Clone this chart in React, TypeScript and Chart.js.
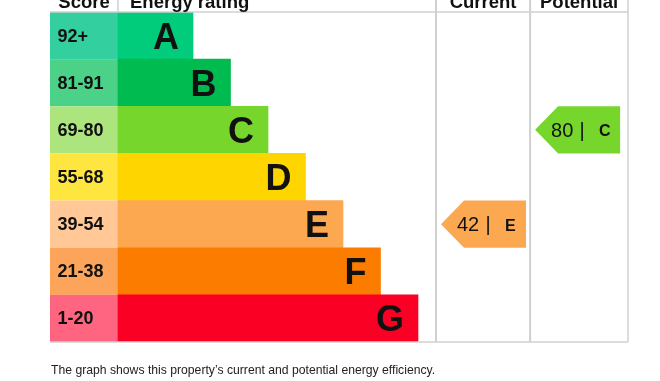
import React, { useEffect, useRef } from 'react';
import { Chart, registerables } from 'chart.js';

Chart.register(...registerables);

// ---- Data ----
const bands = ['A', 'B', 'C', 'D', 'E', 'F', 'G'];
const scoreRanges = ['92+', '81-91', '69-80', '55-68', '39-54', '21-38', '1-20'];
const bandMins = [92, 81, 69, 55, 39, 21, 1];
const barLengths = [2, 3, 4, 5, 6, 7, 8];
const barColors = ['#00CC7B', '#00BB50', '#76D62B', '#FFD500', '#FCA851', '#FC7C00', '#FA0024'];
const scoreColors = ['#33CF9F', '#4CD188', '#ACE57D', '#FFE540', '#FFC896', '#FCA55A', '#FF6480'];
const headers = ['Score', 'Energy rating', 'Current', 'Potential'];
const currentScore = 42;
const potentialScore = 80;
const footnote = 'The graph shows this property\u2019s current and potential energy efficiency.';

// ---- Layout (scale units: 1 unit = one band step) ----
const X_MIN = -1.8133;
const X_MAX = 13.6;
const COL_CURRENT = 8.48;
const COL_POTENTIAL = 10.99;

const FONT = '"Liberation Sans", Arial, Helvetica, sans-serif';

function bandIndex(score: number) {
  for (let i = 0; i < bandMins.length; i++) if (score >= bandMins[i]) return i;
  return bandMins.length - 1;
}

const epcPlugin = {
  id: 'epc',
  beforeDatasetsDraw(chart: any) {
    const { ctx, chartArea, scales } = chart;
    const { left, top, bottom } = chartArea;
    const x = scales.x;
    const y = scales.y;
    const h = (bottom - top) / bands.length;
    const x0 = x.getPixelForValue(0);
    ctx.save();
    bands.forEach((_, i) => {
      const yc = y.getPixelForValue(i);
      ctx.fillStyle = scoreColors[i];
      ctx.fillRect(left, yc - h / 2, x0 - left, h);
    });
    ctx.restore();
  },
  afterDatasetsDraw(chart: any) {
    const { ctx, chartArea, scales } = chart;
    const { left, right, top, bottom } = chartArea;
    const x = scales.x;
    const y = scales.y;
    const h = (bottom - top) / bands.length;
    const x0 = x.getPixelForValue(0);
    const xc = x.getPixelForValue(COL_CURRENT);
    const xp = x.getPixelForValue(COL_POTENTIAL);
    const xr = x.getPixelForValue(X_MAX);
    ctx.save();

    // grid lines
    ctx.strokeStyle = '#D0D0D0';
    ctx.lineWidth = 2;
    [xc, xp].forEach((px) => {
      ctx.beginPath();
      ctx.moveTo(px, 0);
      ctx.lineTo(px, bottom);
      ctx.stroke();
    });
    ctx.lineWidth = 1.5;
    ctx.beginPath();
    ctx.moveTo(xr, 0);
    ctx.lineTo(xr, bottom);
    ctx.stroke();
    ctx.beginPath();
    ctx.moveTo(x0, 0);
    ctx.lineTo(x0, top);
    ctx.stroke();
    ctx.beginPath();
    ctx.moveTo(left, top);
    ctx.lineTo(right, top);
    ctx.stroke();
    ctx.beginPath();
    ctx.moveTo(left, bottom);
    ctx.lineTo(right, bottom);
    ctx.stroke();

    // headers
    ctx.fillStyle = '#111';
    ctx.font = `bold 18.5px ${FONT}`;
    ctx.textBaseline = 'alphabetic';
    ctx.textAlign = 'center';
    ctx.fillText(headers[0], (left + x0) / 2, 8);
    ctx.textAlign = 'left';
    ctx.fillText(headers[1], x0 + 12, 8);
    ctx.textAlign = 'center';
    ctx.fillText(headers[2], (xc + xp) / 2, 8);
    ctx.fillText(headers[3], (xp + xr) / 2, 8);

    // score labels and band letters
    bands.forEach((b, i) => {
      const yc = y.getPixelForValue(i);
      ctx.fillStyle = '#111';
      ctx.font = `bold 18px ${FONT}`;
      ctx.textAlign = 'left';
      ctx.fillText(scoreRanges[i], left + 7.5, yc + 6);
      ctx.font = `bold 36px ${FONT}`;
      ctx.textAlign = 'right';
      const barRight = x.getPixelForValue(barLengths[i]);
      ctx.fillText(b, barRight - 14, yc + 13);
    });

    // arrows
    const drawArrow = (score: number, colLeft: number) => {
      const i = bandIndex(score);
      const yc = y.getPixelForValue(i);
      const tip = colLeft + 5;
      const w = 85;
      const notch = 23;
      ctx.fillStyle = barColors[i];
      ctx.beginPath();
      ctx.moveTo(tip, yc);
      ctx.lineTo(tip + notch, yc - h / 2);
      ctx.lineTo(tip + w, yc - h / 2);
      ctx.lineTo(tip + w, yc + h / 2);
      ctx.lineTo(tip + notch, yc + h / 2);
      ctx.closePath();
      ctx.fill();
      ctx.fillStyle = '#111';
      ctx.textAlign = 'left';
      ctx.font = `20px ${FONT}`;
      ctx.fillText(`${score}`, tip + 16, yc + 7);
      ctx.fillText('|', tip + 44.5, yc + 7);
      ctx.font = `bold 16px ${FONT}`;
      ctx.fillText(bands[i], tip + 64, yc + 6.5);
    };
    drawArrow(currentScore, xc);
    drawArrow(potentialScore, xp);

    // footnote
    ctx.fillStyle = '#222';
    ctx.font = `12.2px ${FONT}`;
    ctx.textAlign = 'left';
    ctx.fillText(footnote, 51, 374);

    ctx.restore();
  },
};

export default function App() {
  const canvasRef = useRef<HTMLCanvasElement | null>(null);

  useEffect(() => {
    if (!canvasRef.current) return;
    const chart = new Chart(canvasRef.current, {
      type: 'bar',
      data: {
        labels: bands,
        datasets: [
          {
            label: 'Energy rating',
            data: barLengths,
            backgroundColor: barColors,
            borderWidth: 0,
            barPercentage: 1,
            categoryPercentage: 1,
          },
        ],
      },
      options: {
        indexAxis: 'y',
        responsive: false,
        animation: false,
        layout: { padding: { left: 50, right: 32, top: 12, bottom: 39 } },
        plugins: { legend: { display: false }, tooltip: { enabled: false } },
        scales: {
          x: { type: 'linear', min: X_MIN, max: X_MAX, display: false },
          y: { type: 'category', display: false },
        },
      },
      plugins: [epcPlugin],
    });
    return () => chart.destroy();
  }, []);

  return (
    <div style={{ position: 'fixed', left: 0, top: 0, width: 660, height: 381, background: '#fff' }}>
      <canvas ref={canvasRef} width={660} height={381} />
    </div>
  );
}
